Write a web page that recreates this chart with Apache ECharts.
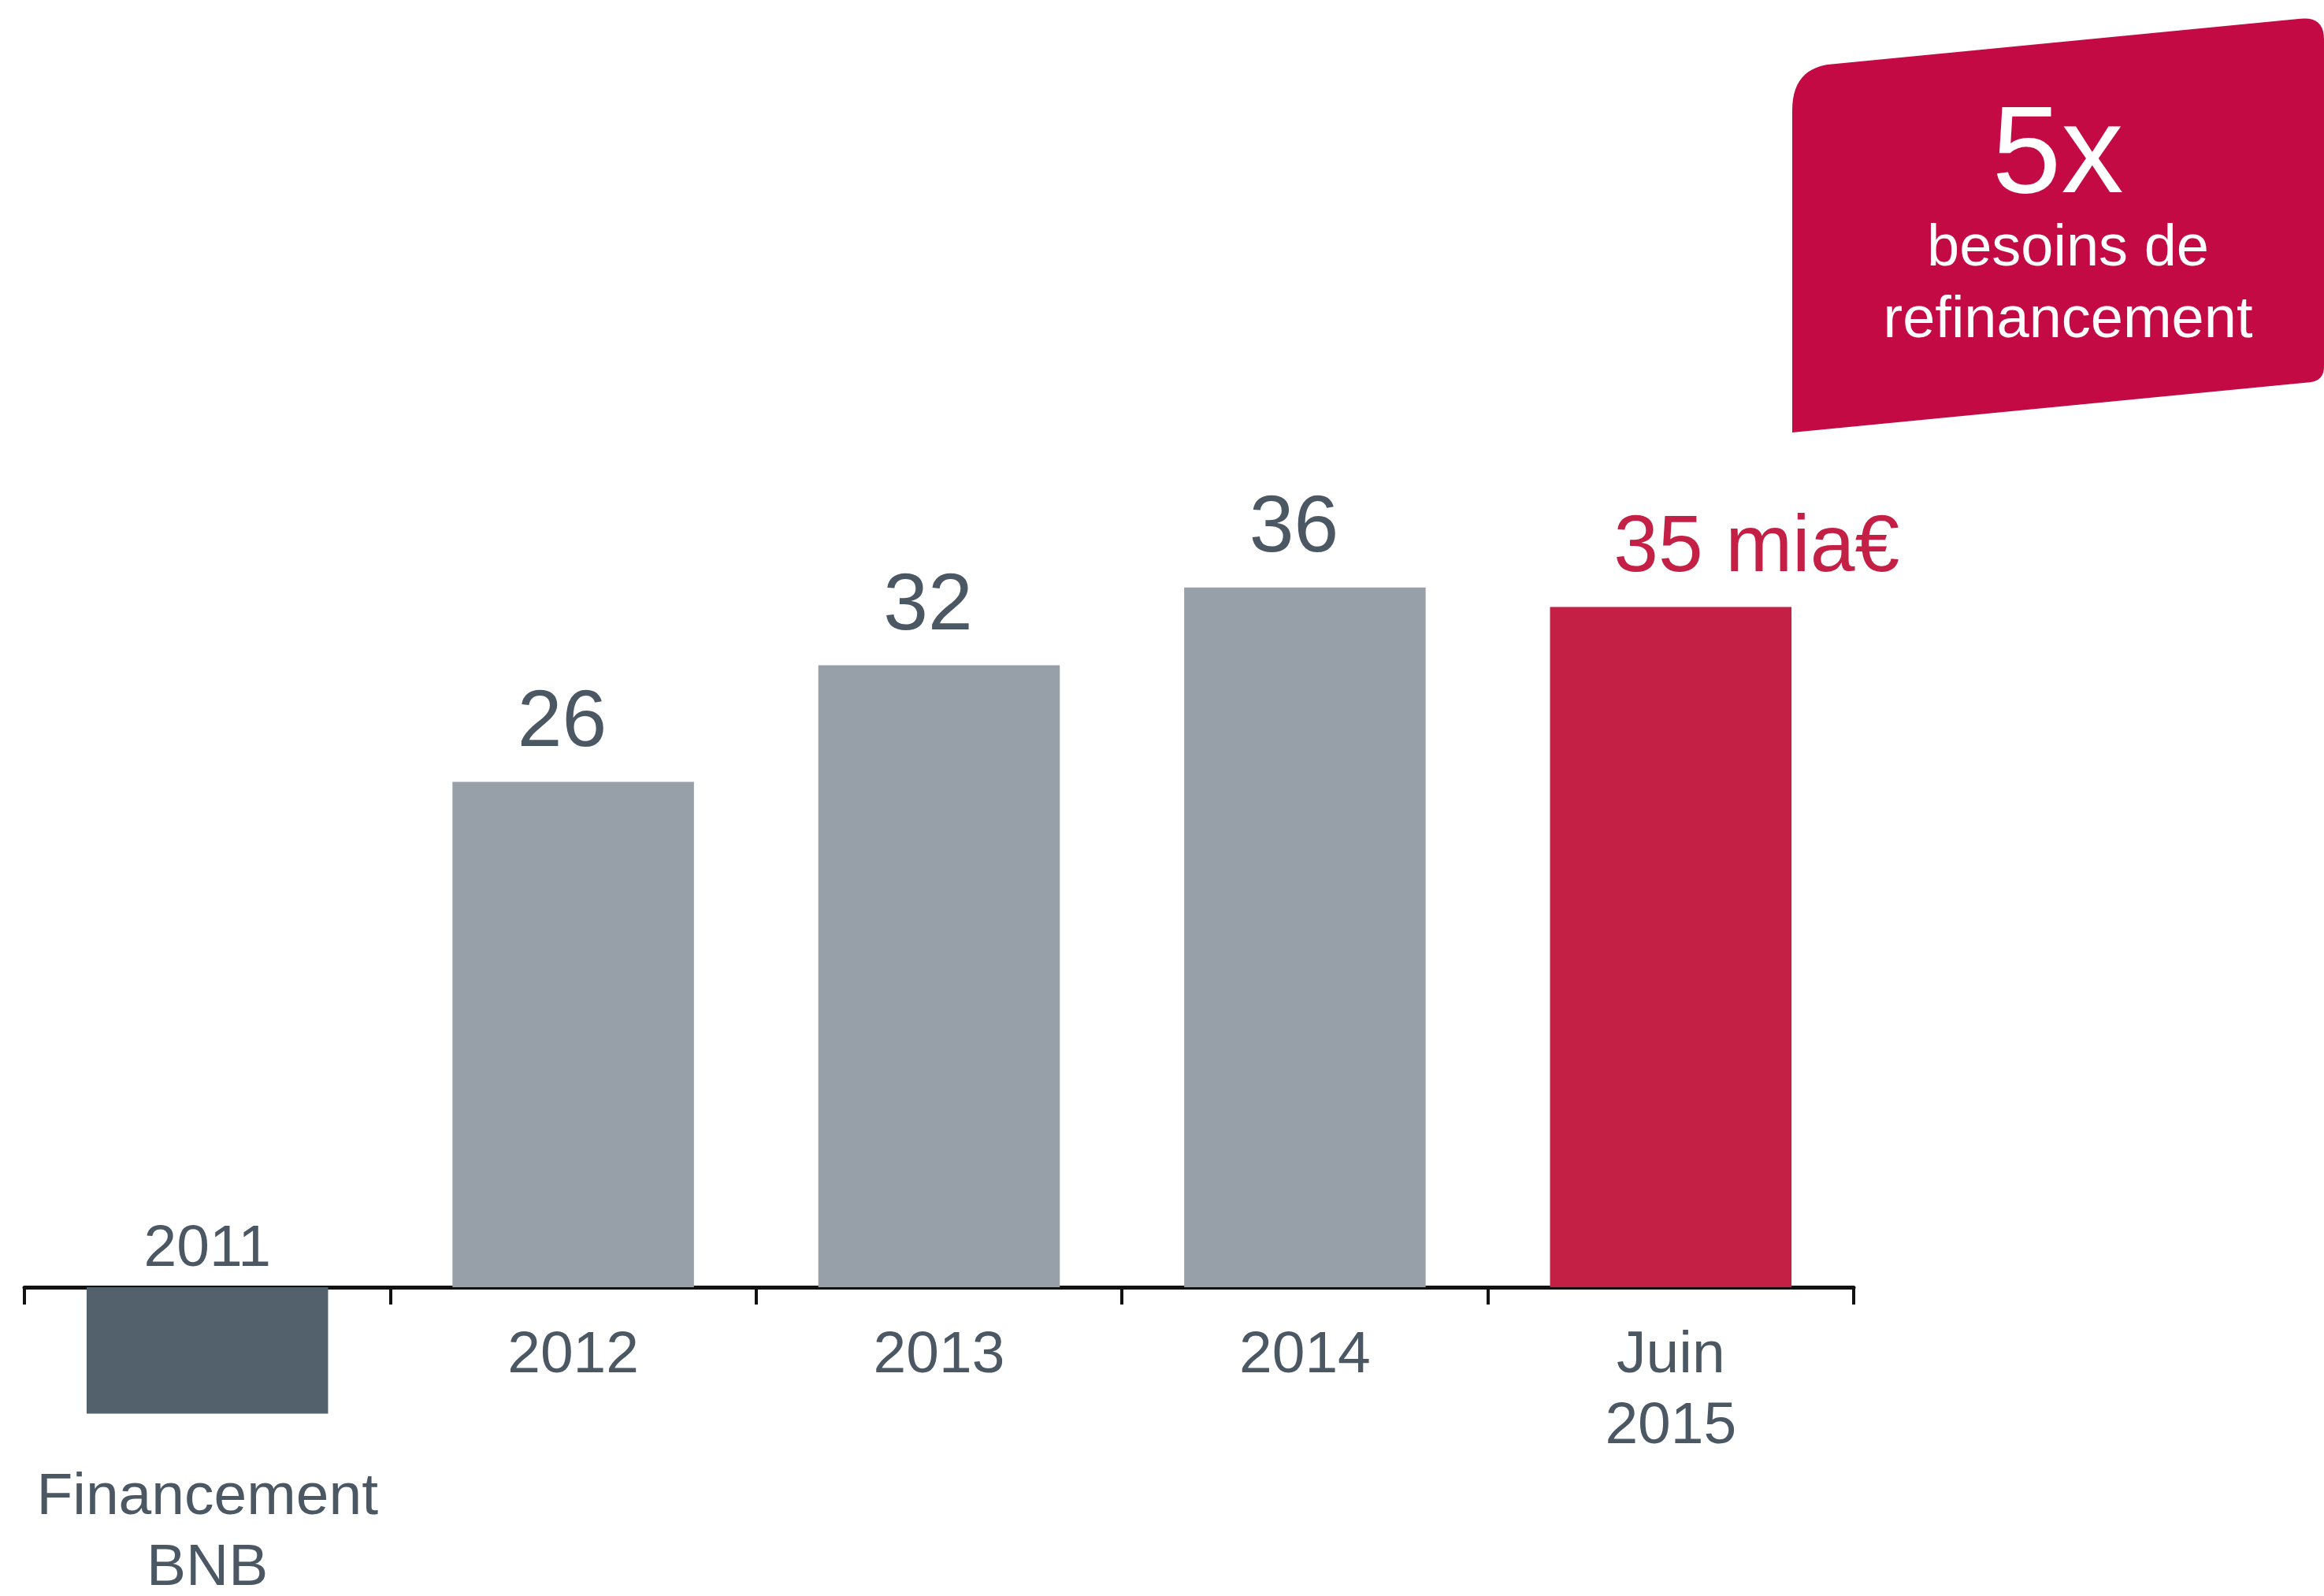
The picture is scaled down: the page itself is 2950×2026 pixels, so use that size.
<!DOCTYPE html>
<html>
<head>
<meta charset="utf-8">
<script src="https://cdn.jsdelivr.net/npm/echarts@6/dist/echarts.min.js"></script>
<style>
  html, body { margin: 0; padding: 0; background: #ffffff; }
  #chart { width: 2950px; height: 2026px; }
</style>
</head>
<body>
<div id="chart"></div>
<script>
// Refinancing needs (bn €) by period; the 2011 bar is the BNB funding drawn below zero
const categories = ['2011', '2012', '2013', '2014', 'Juin\n2015'];
const values = [-6.5, 26, 32, 36, 35];
const barColors = ['#52616c', '#979fa9', '#979fa9', '#979fa9', '#c41f45'];
const axisNotes = ['Financement\nBNB', null, null, null, null];
const valueUnit = ' mia€';
const badgeHeadline = '5x';
const badgeText = 'besoins de\nrefinancement';

const FONT = '"Liberation Sans", Arial, Helvetica, sans-serif';
const SLATE = '#4b5864';
const lastIndex = values.length - 1;

const seriesData = values.map((v, i) => {
  const item = { value: v, itemStyle: { color: barColors[i] } };
  if (v < 0) {
    // the year sits just above the axis when the bar hangs below it
    item.label = { fontSize: 75, lineHeight: 89, distance: 3, offset: [0, 0] };
  }
  if (i === lastIndex) {
    item.label = { color: '#c41f45', offset: [109, 0] };
  }
  return item;
});

// Rounded, slanted badge outline
function quadPts(p0, c, p1, n) {
  const out = [];
  for (let k = 1; k <= n; k++) {
    const t = k / n, u = 1 - t;
    out.push([u * u * p0[0] + 2 * u * t * c[0] + t * t * p1[0],
              u * u * p0[1] + 2 * u * t * c[1] + t * t * p1[1]]);
  }
  return out;
}
const badgePts = [[2275, 549], [2275, 140]]
  .concat(quadPts([2275, 140], [2275, 86.3], [2325, 81.4], 14))
  .concat([[2920, 23.7]])
  .concat(quadPts([2920, 23.7], [2950, 20.8], [2950, 50], 10))
  .concat([[2950, 465]])
  .concat(quadPts([2950, 465], [2950, 483.5], [2932, 485.2], 8));

const chart = echarts.init(document.getElementById('chart'), null, { renderer: 'canvas' });

chart.setOption({
  backgroundColor: '#ffffff',
  animation: false,
  textStyle: { fontFamily: FONT },
  // the plot area ends at the zero line; the negative bar hangs below it unclipped
  grid: {
    left: 31, right: 597, top: 647, bottom: 392,
    containLabel: false,
    outerBoundsMode: 'none'
  },
  xAxis: {
    type: 'category',
    data: categories,
    axisLine: { show: true, onZero: true, lineStyle: { color: '#121212', width: 5 } },
    axisTick: { show: true, length: 22, lineStyle: { color: '#121212', width: 4 } },
    axisLabel: {
      interval: 0,
      margin: 42,
      color: SLATE,
      fontFamily: FONT,
      fontSize: 75,
      lineHeight: 90,
      hideOverlap: false,
      // the note under the hanging bar is pushed two lines lower
      formatter: (val, idx) => axisNotes[idx] ? '\n\n' + axisNotes[idx] : val
    },
    splitLine: { show: false }
  },
  yAxis: {
    type: 'value',
    min: 0,
    max: 40,
    interval: 10,
    show: false,
    splitLine: { show: false }
  },
  series: [{
    type: 'bar',
    data: seriesData,
    barWidth: '66%',
    clip: false,
    label: {
      show: true,
      position: 'top',
      distance: 24,
      offset: [-14, 0],
      color: SLATE,
      fontFamily: FONT,
      fontSize: 102,
      lineHeight: 100,
      formatter: p => p.value < 0
        ? p.name
        : p.value + (p.dataIndex === lastIndex ? valueUnit : '')
    }
  }],
  graphic: [
    {
      type: 'polygon',
      shape: { points: badgePts },
      style: { fill: '#c30a45' },
      z: 1
    },
    {
      type: 'text',
      x: 2612, y: 200,
      style: {
        text: badgeHeadline,
        fill: '#ffffff',
        fontFamily: FONT,
        fontSize: 158,
        align: 'center',
        verticalAlign: 'middle'
      },
      z: 2
    },
    {
      type: 'text',
      x: 2625, y: 362,
      style: {
        text: badgeText,
        fill: '#ffffff',
        fontFamily: FONT,
        fontSize: 74,
        lineHeight: 91,
        align: 'center',
        verticalAlign: 'middle'
      },
      z: 2
    }
  ]
});
</script>
</body>
</html>
